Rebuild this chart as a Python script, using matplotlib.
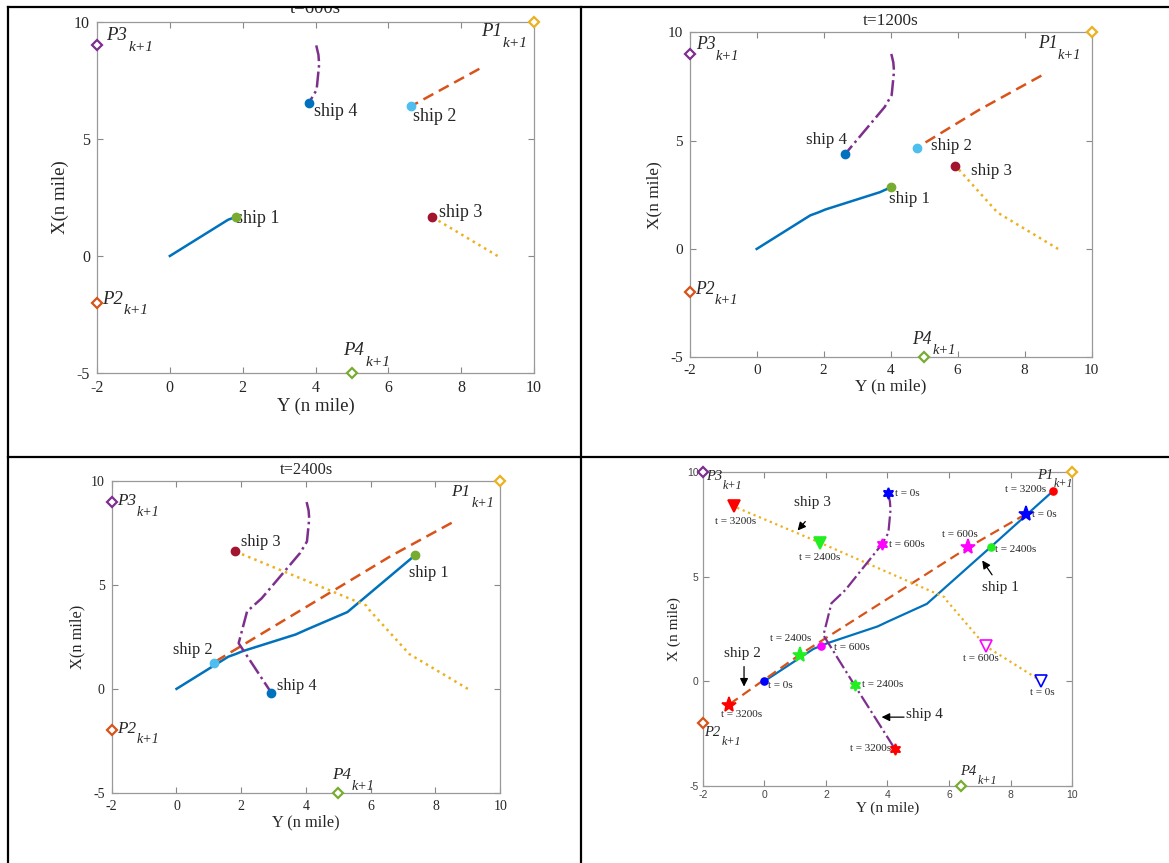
import numpy as np
import matplotlib
matplotlib.use('Agg')
import matplotlib.pyplot as plt
from matplotlib.lines import Line2D
from matplotlib.patches import Rectangle

plt.rcParams['axes.unicode_minus'] = False

# trayectorias: eje horizontal = Y (n mile), eje vertical = X (n mile)
times = [0, 600, 1200, 2400, 3200]

ship1_h = [0.0, 1.60, 1.83, 2.05, 3.68, 4.01, 5.28, 7.37, 9.38]
ship1_v = [0.0, 1.55, 1.68, 1.82, 2.62, 2.85, 3.70, 6.44, 9.10]
ship1_idx = [0, 2, 5, 7, 8]

ship2_h = [8.50, 6.62, 4.79, 1.15, -1.16]
ship2_v = [8.00, 6.40, 4.68, 1.27, -1.13]
ship2_idx = [0, 1, 2, 3, 4]

ship3_h = [9.00, 7.19, 5.93, 5.86, 1.82, -1.00]
ship3_v = [0.00, 1.68, 3.85, 4.02, 6.62, 8.37]
ship3_idx = [0, 1, 2, 4, 5]

ship4_h = [4.02, 4.08, 4.10, 4.03, 3.82, 2.63, 2.18, 1.92, 2.93, 4.25]
ship4_v = [9.00, 8.60, 8.20, 7.10, 6.55, 4.36, 3.73, 2.20, -0.19, -3.26]
ship4_idx = [0, 4, 5, 8, 9]

# puntos destino P1..P4
p_names = ['P1', 'P2', 'P3', 'P4']
p_h = [10, -2, -2, 5]
p_v = [10, -2, 9, -5]
p_h_final = [10, -2, -2, 6.4]
p_v_final = [10, -2, 10, -5]

# etiquetas de barcos en los paneles 1-3 (x, y, ha)
lab1 = [(1.82, 1.62, 'left'), (6.67, 5.98, 'left'), (7.38, 1.87, 'left'), (3.95, 6.19, 'left')]
lab2 = [(3.96, 2.31, 'left'), (5.21, 4.73, 'left'), (6.39, 3.59, 'left'), (2.71, 5.05, 'right')]
lab3 = [(7.18, 5.60, 'left'), (1.12, 1.88, 'right'), (1.98, 7.07, 'left'), (3.12, 0.16, 'left')]
# etiquetas P (P1, P2, P3, P4)
plab1 = [(8.55, 9.60), (-1.87, -1.84), (-1.74, 9.42), (4.77, -4.06)]
plab2 = [(8.39, 9.48), (-1.85, -1.85), (-1.82, 9.45), (4.65, -4.16)]
plab3 = [(8.49, 9.47), (-1.85, -1.91), (-1.85, 9.04), (4.81, -4.14)]
plab4 = [(8.85, 9.86), (-1.95, -2.46), (-1.89, 9.80), (6.37, -4.32)]

# panel final: etiquetas de tiempo
tl_text = ['t = 0s', 't = 3200s', 't = 600s', 't = 2400s', 't = 3200s', 't = 0s',
           't = 600s', 't = 2400s', 't = 2400s', 't = 600s', 't = 600s', 't = 0s',
           't = 2400s', 't = 0s', 't = 3200s', 't = 3200s']
tl_h = [4.25, -0.92, 4.05, 1.79, 9.16, 8.71, 6.35, 7.51, 0.85, 2.26, 7.02, 0.12,
        3.17, 9.04, -0.73, 4.13]
tl_v = [9.00, 7.64, 6.56, 5.94, 9.19, 7.96, 7.04, 6.29, 2.06, 1.63, 1.07, -0.21,
        -0.14, -0.53, -1.61, -3.24]
tl_ha = ['left', 'center', 'left', 'center', 'right', 'left', 'center', 'left',
         'center', 'left', 'center', 'left', 'left', 'center', 'center', 'right']

# flechas del panel final: texto, pos texto, cola, punta
arr_text = ['ship 1', 'ship 2', 'ship 3', 'ship 4']
arr_lab = [(7.67, 4.48), (-0.70, 1.34), (1.56, 8.55), (5.20, -1.61)]
arr_tail = [(7.40, 5.09), (-0.66, 0.70), (1.33, 7.64), (4.54, -1.72)]
arr_tip = [(7.08, 5.78), (-0.66, -0.26), (1.08, 7.21), (3.81, -1.72)]

serif = 'Liberation Serif'
c_line = ['#0072BD', '#D95319', '#EDB120', '#7E2F8E']
c_dot = ['#77AC30', '#4DBEEE', '#A2142F', '#0072BD']
c_p = ['#EDB120', '#D95319', '#7E2F8E', '#77AC30']
styles = ['-', (0, (4.5, 2.5)), ':', '-.']
c_time = ['#0000FF', '#FF00FF', None, '#22EE22', '#FF0000']

tracks = [(ship1_h, ship1_v, ship1_idx), (ship2_h, ship2_v, ship2_idx),
          (ship3_h, ship3_v, ship3_idx), (ship4_h, ship4_v, ship4_idx)]

fig = plt.figure(figsize=(11.69, 8.63), dpi=100)


def base_axes(rect, tick_fs, lab_fs, ylab, tick_font):
    ax = fig.add_axes(rect)
    ax.set_xlim(-2, 10)
    ax.set_ylim(-5, 10)
    ax.set_xticks(range(-2, 11, 2))
    ax.set_yticks([-5, 0, 5, 10])
    ax.tick_params(direction='in', top=True, right=True, length=4, width=0.8,
                   color='#888888', labelcolor='#262626', labelsize=tick_fs, pad=5)
    for lb in ax.get_xticklabels() + ax.get_yticklabels():
        lb.set_family(tick_font)
    for sp in ax.spines.values():
        sp.set_color('#999999')
        sp.set_linewidth(0.9)
    ax.set_xlabel('Y (n mile)', fontsize=lab_fs, family=serif, color='#262626', labelpad=1)
    ax.set_ylabel(ylab, fontsize=lab_fs, family=serif, color='#262626', labelpad=4)
    return ax


def p_label(ax, x, y, name, fs):
    t = ax.text(x, y, name, fontsize=fs, style='italic', family=serif, ha='left',
                va='center', color='#262626')
    ax.annotate('k+1', xy=(1, -0.2), xycoords=t, xytext=(0.5, 0),
                textcoords='offset points', fontsize=fs * 0.82, style='italic',
                family=serif, ha='left', va='center', color='#262626')


def p_markers(ax, hs, vs):
    for k in range(4):
        ax.plot(hs[k], vs[k], marker='D', ms=5.5, mfc='white', mec=c_p[k], mew=1.6,
                clip_on=False, zorder=5)


def panel(rect, ti, title, tick_fs, lab_fs, ship_fs, labs, plabs, pad):
    ax = base_axes(rect, tick_fs, lab_fs, 'X(n mile)', serif)
    ax.set_title(title, fontsize=lab_fs, family=serif, color='#262626', pad=pad)
    for s in range(4):
        h, v, idx = tracks[s]
        n = idx[ti]
        ax.plot(h[:n + 1], v[:n + 1], ls=styles[s], color=c_line[s], lw=1.8)
    for s in range(4):
        h, v, idx = tracks[s]
        n = idx[ti]
        ax.plot(h[n], v[n], 'o', ms=6, color=c_dot[s], zorder=4)
        x, y, ha = labs[s]
        ax.text(x, y, 'ship %d' % (s + 1), fontsize=ship_fs, family=serif, ha=ha,
                va='center', color='#262626')
    p_markers(ax, p_h, p_v)
    for k in range(4):
        p_label(ax, plabs[k][0], plabs[k][1], p_names[k], ship_fs + 0.5)
    return ax


panel([0.0830, 0.5678, 0.3738, 0.4067], 1, 't=600s', 11.5, 13.5, 13, lab1, plab1, 6.5)
panel([0.5900, 0.5860, 0.3438, 0.3766], 2, 't=1200s', 11, 12.4, 12.2, lab2, plab2, 5)
panel([0.0956, 0.0815, 0.3323, 0.3608], 3, 't=2400s', 10, 11.8, 11.8, lab3, plab3, 5)

# panel final con todas las trayectorias
ax4 = base_axes([0.6012, 0.0896, 0.3159, 0.3632], 7.5, 11, 'X (n mile)', 'Liberation Sans')
ax4.tick_params(labelcolor='#444444', pad=3)
for s in range(4):
    h, v, idx = tracks[s]
    ax4.plot(h, v, ls=styles[s], color=c_line[s], lw=1.6)

mk = ['o', '*', 'v', (6, 1, 0)]
ms = [5, 11, 8, 8]
for s in range(4):
    h, v, idx = tracks[s]
    for ti in [0, 1, 3, 4]:
        n = idx[ti]
        face = c_time[ti]
        if s == 2 and ti < 2:
            face = 'white'
        ax4.plot(h[n], v[n], marker=mk[s], ms=ms[s], mfc=face, mec=c_time[ti],
                 mew=1.2, ls='none', zorder=4)

for k in range(len(tl_text)):
    ax4.text(tl_h[k], tl_v[k], tl_text[k], fontsize=8, family=serif, ha=tl_ha[k],
             va='center', color='#262626')

for k in range(4):
    ax4.text(arr_lab[k][0], arr_lab[k][1], arr_text[k], fontsize=11, family=serif,
             ha='center', va='center', color='#262626')
    ax4.annotate('', xy=arr_tip[k], xytext=arr_tail[k],
                 arrowprops=dict(arrowstyle='-|>', color='black', lw=0.9,
                                 mutation_scale=12, shrinkA=0, shrinkB=0))

p_markers(ax4, p_h_final, p_v_final)
for k in range(4):
    p_label(ax4, plab4[k][0], plab4[k][1], p_names[k], 10.5)

# recuadro tipo tabla
fig.add_artist(Rectangle((0, 1 - 7 / 863), 1, 7 / 863, transform=fig.transFigure,
                         facecolor='white', edgecolor='none', zorder=10))
bw = 1.6
fig.add_artist(Line2D([8 / 1169, 1], [1 - 7 / 863] * 2, transform=fig.transFigure,
                      color='black', lw=bw, zorder=11))
fig.add_artist(Line2D([8 / 1169] * 2, [0, 1 - 7 / 863], transform=fig.transFigure,
                      color='black', lw=bw, zorder=11))
fig.add_artist(Line2D([581 / 1169] * 2, [0, 1 - 7 / 863], transform=fig.transFigure,
                      color='black', lw=bw, zorder=11))
fig.add_artist(Line2D([8 / 1169, 1], [1 - 457 / 863] * 2, transform=fig.transFigure,
                      color='black', lw=bw, zorder=11))

fig.savefig('out.png', dpi=100)
